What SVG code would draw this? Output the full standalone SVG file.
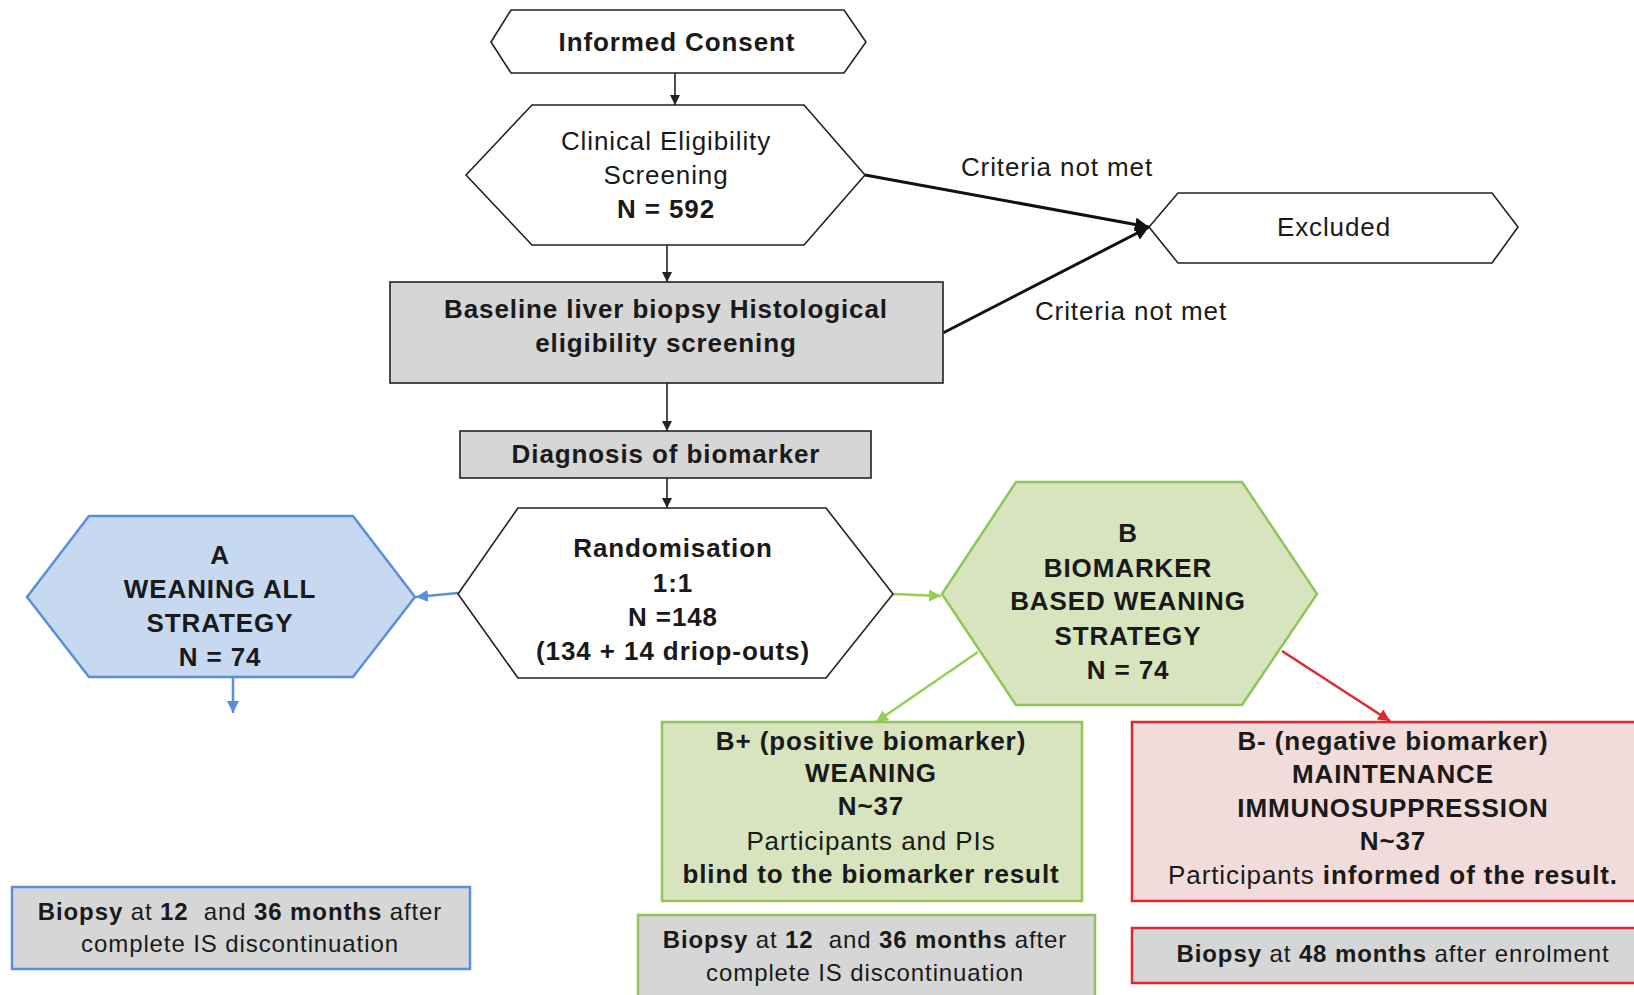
<svg xmlns="http://www.w3.org/2000/svg" width="1634" height="995" viewBox="0 0 1634 995">
<defs>
<style>
text{font-family:"Liberation Sans",Arial,sans-serif;font-size:26px;letter-spacing:0.9px;fill:#1a1a1a;text-anchor:middle}
.b{font-weight:bold}
.r{font-weight:normal}
.s{font-size:24px;white-space:pre}
.hx{fill:#fff;stroke:#222;stroke-width:1.6}
.gray{fill:#d6d6d6;stroke:#222;stroke-width:1.6}
.blue{fill:#c6d9f1;stroke:#5b8fd9;stroke-width:2.5}
.green{fill:#d7e4bd;stroke:#8fc65a;stroke-width:2.5}
.pink{fill:#f2dcdb;stroke:#e2262d;stroke-width:2.5}
.grayb{fill:#d6d6d6;stroke:#5b8fd9;stroke-width:2.5}
.grayg{fill:#d6d6d6;stroke:#8fc65a;stroke-width:2.5}
.grayr{fill:#d6d6d6;stroke:#e2262d;stroke-width:2.5}
.ln{fill:none;stroke:#222;stroke-width:1.6}
.lnk{fill:none;stroke:#111;stroke-width:3}
.lnb{fill:none;stroke:#5b8fd9;stroke-width:2.5}
.lng{fill:none;stroke:#92d050;stroke-width:2.5}
.lnr{fill:none;stroke:#e2262d;stroke-width:2.5}
</style>
<marker id="ak" viewBox="0 0 10 10" refX="10" refY="5" markerWidth="10" markerHeight="10" markerUnits="userSpaceOnUse" orient="auto"><path d="M0,0 L10,5 L0,10 z" fill="#222"/></marker>
<marker id="akb" viewBox="0 0 10 10" refX="10" refY="5" markerWidth="14" markerHeight="14" markerUnits="userSpaceOnUse" orient="auto"><path d="M0,0 L10,5 L0,10 z" fill="#111"/></marker>
<marker id="ab" viewBox="0 0 10 10" refX="10" refY="5" markerWidth="12" markerHeight="12" markerUnits="userSpaceOnUse" orient="auto"><path d="M0,0 L10,5 L0,10 z" fill="#5b8fd9"/></marker>
<marker id="ag" viewBox="0 0 10 10" refX="10" refY="5" markerWidth="12" markerHeight="12" markerUnits="userSpaceOnUse" orient="auto"><path d="M0,0 L10,5 L0,10 z" fill="#92d050"/></marker>
<marker id="ar" viewBox="0 0 10 10" refX="10" refY="5" markerWidth="12" markerHeight="12" markerUnits="userSpaceOnUse" orient="auto"><path d="M0,0 L10,5 L0,10 z" fill="#e2262d"/></marker>
</defs>
<rect width="1634" height="995" fill="#fff"/>

<g id="connectors">
<line class="ln" x1="675" y1="73" x2="675" y2="105" marker-end="url(#ak)"/>
<line class="ln" x1="667" y1="245" x2="667" y2="282" marker-end="url(#ak)"/>
<line class="ln" x1="667" y1="383" x2="667" y2="431" marker-end="url(#ak)"/>
<line class="ln" x1="667" y1="478" x2="667" y2="508" marker-end="url(#ak)"/>
<line class="lnk" x1="865" y1="175" x2="1149" y2="227" marker-end="url(#akb)"/>
<line class="lnk" x1="943" y1="333" x2="1149" y2="227" marker-end="url(#akb)"/>
<line class="lnb" x1="458" y1="593" x2="416" y2="597" marker-end="url(#ab)"/>
<line class="lnb" x1="233" y1="677" x2="233" y2="713" marker-end="url(#ab)"/>
<line class="lng" x1="893" y1="594" x2="941" y2="596" marker-end="url(#ag)"/>
<line class="lng" x1="978" y1="652" x2="876" y2="722" marker-end="url(#ag)"/>
<line class="lnr" x1="1282" y1="651" x2="1390" y2="721" marker-end="url(#ar)"/>
<text x="1057" y="176">Criteria not met</text>
<text x="1131" y="320">Criteria not met</text>
</g>

<g id="informed-consent">
<polygon class="hx" points="491,42 511,10 844,10 866,42 844,73 511,73"/>
<text class="b" x="677" y="51">Informed Consent</text>
</g>

<g id="clinical-eligibility">
<polygon class="hx" points="466,175 532,105 804,105 865,175 804,245 532,245"/>
<text x="666" y="150">Clinical Eligibility</text>
<text x="666" y="184">Screening</text>
<text class="b" x="666" y="218">N = 592</text>
</g>

<g id="excluded">
<polygon class="hx" points="1149,227 1178,193 1492,193 1518,227 1492,263 1178,263"/>
<text x="1334" y="236">Excluded</text>
</g>

<g id="baseline-biopsy">
<rect class="gray" x="390" y="282" width="553" height="101"/>
<text class="b" x="666" y="318">Baseline liver biopsy Histological</text>
<text class="b" x="666" y="352">eligibility screening</text>
</g>

<g id="diagnosis">
<rect class="gray" x="460" y="431" width="411" height="47"/>
<text class="b" x="666" y="463">Diagnosis of biomarker</text>
</g>

<g id="randomisation">
<polygon class="hx" points="458,594 518,508 826,508 893,594 826,678 518,678"/>
<text class="b" x="673" y="557">Randomisation</text>
<text class="b" x="673" y="592">1:1</text>
<text class="b" x="673" y="626">N =148</text>
<text class="b" x="673" y="660">(134 + 14 driop-outs)</text>
</g>

<g id="arm-a">
<polygon class="blue" points="27,597 89,516 353,516 415,597 353,677 89,677"/>
<text class="b" x="220" y="564">A</text>
<text class="b" x="220" y="598">WEANING ALL</text>
<text class="b" x="220" y="632">STRATEGY</text>
<text class="b" x="220" y="666">N = 74</text>
</g>

<g id="arm-a-biopsy">
<rect class="grayb" x="12" y="887" width="458" height="82"/>
<text class="s" x="240" y="920"><tspan class="b">Biopsy</tspan> at <tspan class="b">12</tspan>  and <tspan class="b">36 months</tspan> after</text>
<text class="s" x="240" y="952">complete IS discontinuation</text>
</g>

<g id="arm-b">
<polygon class="green" points="942,594 1016,482 1242,482 1317,594 1242,705 1016,705"/>
<text class="b" x="1128" y="542">B</text>
<text class="b" x="1128" y="577">BIOMARKER</text>
<text class="b" x="1128" y="610">BASED WEANING</text>
<text class="b" x="1128" y="645">STRATEGY</text>
<text class="b" x="1128" y="679">N = 74</text>
</g>

<g id="b-positive">
<rect class="green" x="662" y="722" width="420" height="179"/>
<text class="b" x="871" y="750">B+ (positive biomarker)</text>
<text class="b" x="871" y="782">WEANING</text>
<text class="b" x="871" y="815">N~37</text>
<text x="871" y="850">Participants and PIs</text>
<text class="b" x="871" y="883">blind to the biomarker result</text>
</g>

<g id="b-positive-biopsy">
<rect class="grayg" x="638" y="915" width="457" height="90"/>
<text class="s" x="865" y="948"><tspan class="b">Biopsy</tspan> at <tspan class="b">12</tspan>  and <tspan class="b">36 months</tspan> after</text>
<text class="s" x="865" y="981">complete IS discontinuation</text>
</g>

<g id="b-negative">
<rect class="pink" x="1132" y="722" width="520" height="179"/>
<text class="b" x="1393" y="750">B- (negative biomarker)</text>
<text class="b" x="1393" y="783">MAINTENANCE</text>
<text class="b" x="1393" y="817">IMMUNOSUPPRESSION</text>
<text class="b" x="1393" y="850">N~37</text>
<text x="1393" y="884"><tspan class="r">Participants </tspan><tspan class="b">informed of the result.</tspan></text>
</g>

<g id="b-negative-biopsy">
<rect class="grayr" x="1132" y="928" width="520" height="55"/>
<text class="s" x="1393" y="962"><tspan class="b">Biopsy</tspan> at <tspan class="b">48 months</tspan> after enrolment</text>
</g>
</svg>
